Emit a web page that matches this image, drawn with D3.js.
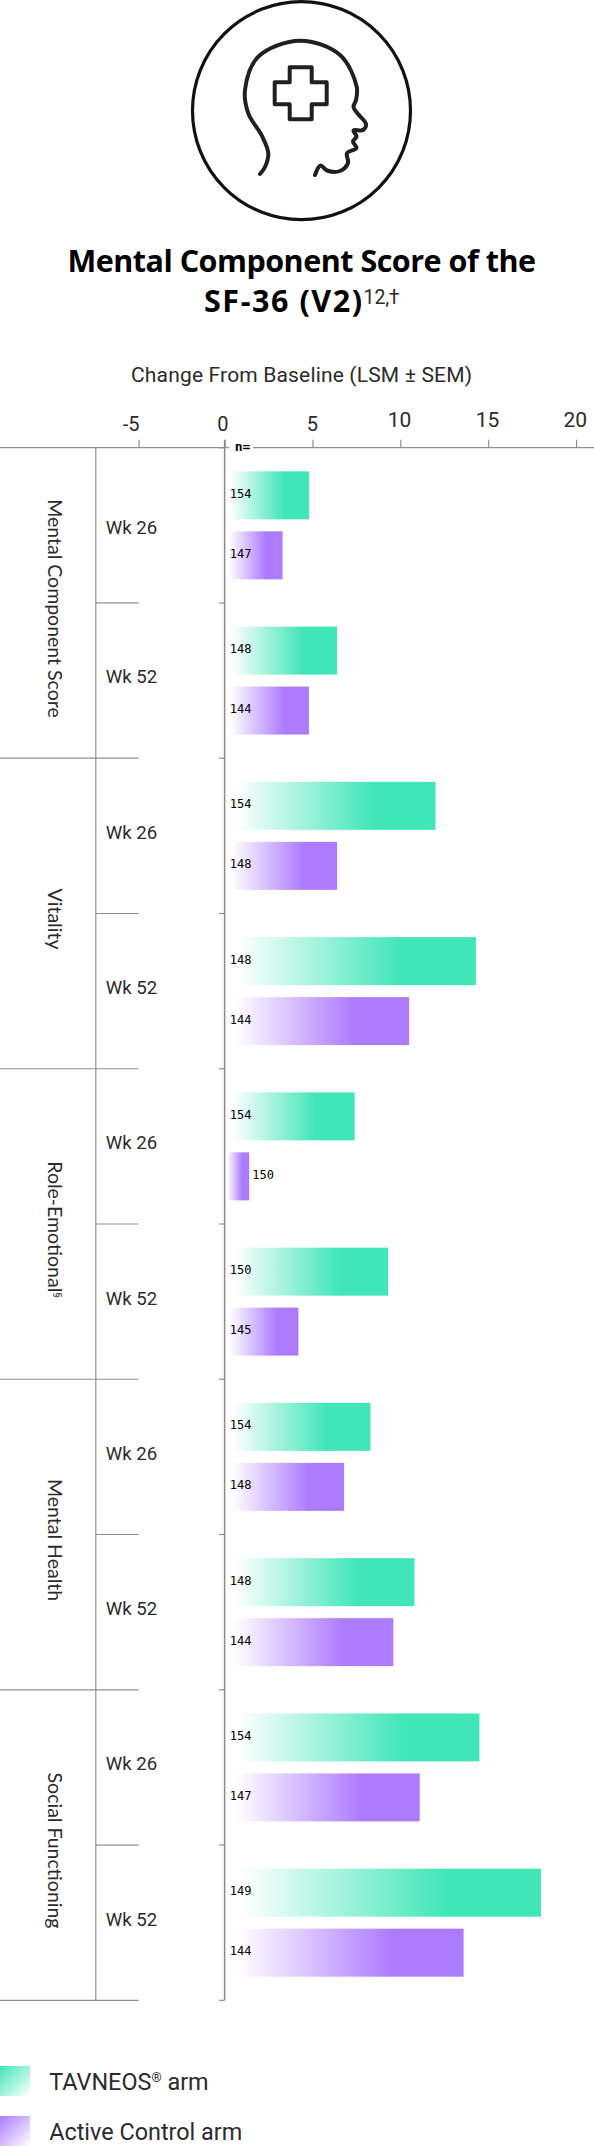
<!DOCTYPE html>
<html><head><meta charset="utf-8">
<script src="https://cdn.jsdelivr.net/npm/d3@7"></script>
<style>
html,body{margin:0;padding:0;background:#fff}
svg{display:block}
text{fill:#2b2b2b}
.plex{font-family:"Roboto",sans-serif;font-weight:400}
.cat{font-family:"Lato",sans-serif;font-weight:400}
.mono{font-family:"DejaVu Sans Mono",monospace}
</style></head><body>
<svg id="c" width="594" height="2147"></svg>
<script>
const categories=["Mental Component Score","Vitality","Role-Emotional","Mental Health","Social Functioning"];
const weeks=["Wk 26","Wk 52"];
const arms=["TAVNEOS","Active Control"];
const tavneosValues=[4.8,6.4,12,14.3,7.4,9.3,8.3,10.8,14.5,18];
const controlValues=[3.3,4.8,6.4,10.5,1.4,4.2,6.8,9.6,11.1,13.6];
const tavneosN=[154,148,154,148,154,150,154,148,154,149];
const controlN=[147,144,148,144,150,145,148,144,147,144];
const xTicks=[-5,0,5,10,15,20];
const colors=["#40E6B8","#AD7BFF"];

const W=594,plotTop=447.7,plotBottom=2000.3;
const svg=d3.select("#c");
const x=d3.scaleLinear().domain([-5,0,20]).range([138.6,224.6,576.1]);
const rows=d3.range(10);
const y=d3.scaleBand().domain(rows).range([plotTop,plotBottom]);
const yArm=d3.scaleBand().domain(arms).range([0,y.bandwidth()]).paddingInner(.2).paddingOuter(.394);
const yCat=d3.scaleBand().domain(categories).range([plotTop,plotBottom]);
const axisCol="#8f8f8f";

// gradients
const defs=svg.append("defs");
colors.forEach((c,i)=>{
  const g=defs.append("linearGradient").attr("id","bar"+i);
  g.append("stop").attr("offset","5%").attr("stop-color",c).attr("stop-opacity",0);
  g.append("stop").attr("offset","70%").attr("stop-color",c);
  const l=defs.append("linearGradient").attr("id","leg"+i).attr("x1",0).attr("y1",0).attr("x2",1).attr("y2",1);
  l.append("stop").attr("offset","0%").attr("stop-color",c);
  l.append("stop").attr("offset","100%").attr("stop-color",c).attr("stop-opacity",0);
});

// icon
const icon=svg.append("g").attr("fill","none").attr("stroke","#111");
icon.append("circle").attr("cx",301.5).attr("cy",110.7).attr("r",109).attr("stroke-width",3.2);
const headPts=[[260,174],[265,167],[268.3,153.3],[262,136],[248.3,113.3],[245,90],[258.3,56.7],[300,40.7],[340,55],[356.7,86.7],[356,100],[353.5,107],[358,114],[366,124],[363,130],[353.5,130.5],[356.5,136.5],[353,141.5],[356.5,148],[347,153.3],[348,163],[340,171],[327,170.5],[320.5,165.5],[315,175]];
icon.append("path").attr("d",d3.line().curve(d3.curveCatmullRom.alpha(.5))(headPts)).attr("stroke","#231f20").attr("stroke-width",4).attr("stroke-linecap","round").attr("stroke-linejoin","round");
const cx=300.7,cy=93.3,a=26,b=11;
icon.append("path").attr("d",`M${cx-b},${cy-a}H${cx+b}V${cy-b}H${cx+a}V${cy+b}H${cx+b}V${cy+a}H${cx-b}V${cy+b}H${cx-a}V${cy-b}H${cx-b}Z`).attr("stroke","#231f20").attr("stroke-width",4).attr("stroke-linejoin","round");

// title
const T=svg.append("g").style("font-family",'"Open Sans",sans-serif');
const titleBold=(txt,xx,yy,len)=>T.append("text").attr("x",xx).attr("y",yy).attr("font-size",30.5).attr("font-weight",700).attr("textLength",len).attr("lengthAdjust","spacing").style("fill","#000").text(txt);
titleBold("Mental Component Score of the",67.4,271.7,468.6);
titleBold("SF-36 (V2)",204,311.7,158);
svg.append("text").attr("class","plex").attr("x",363.6).attr("y",304).attr("font-size",19.5).attr("textLength",36).text("12,†");
svg.append("text").attr("class","plex").attr("x",131).attr("y",382).attr("font-size",21).attr("textLength",341).text("Change From Baseline (LSM ± SEM)");

// axis
const ax=svg.append("g").attr("transform",`translate(0,${plotTop})`).call(d3.axisTop(x).tickValues(xTicks).tickSize(8).tickSizeOuter(0).tickFormat(String));
ax.select(".domain").remove();
ax.selectAll("line").attr("stroke",axisCol).attr("stroke-width",1.2);
ax.selectAll("text").attr("class","plex").attr("font-size",d=>d<10?20:21)
  .attr("x",d=>d<0?-8:d===0?-2.3:d===5?-.5:-1.3).attr("y",d=>d<10?-17:-21).attr("dy",0);
ax.attr("font-family",null).attr("font-size",null);
svg.append("line").attr("x1",0).attr("x2",W).attr("y1",plotTop).attr("y2",plotTop).attr("stroke",axisCol).attr("stroke-width",1.3);
svg.append("rect").attr("x",229).attr("y",plotTop-8).attr("width",24).attr("height",14).attr("fill","#fff");
svg.append("text").attr("class","mono").attr("x",234.8).attr("y",451).attr("font-size",13).attr("font-weight",700).style("fill","#000").text("n=");

// separators
const seps=svg.append("g").attr("stroke",axisCol).attr("stroke-width",1.2);
rows.forEach(r=>{
  const yy=y(r)+y.bandwidth();
  seps.append("line").attr("x1",r%2?0:95.8).attr("x2",x(-5)).attr("y1",yy).attr("y2",yy);
  seps.append("line").attr("x1",x(0)-5.5).attr("x2",x(0)).attr("y1",yy).attr("y2",yy);
});
seps.append("line").attr("x1",x(0)-5.5).attr("x2",x(0)).attr("y1",plotTop).attr("y2",plotTop);
svg.append("line").attr("x1",95.8).attr("x2",95.8).attr("y1",plotTop).attr("y2",plotBottom).attr("stroke",axisCol).attr("stroke-width",1.2);

// bars
const barData=rows.flatMap(r=>[
  {r,a:0,v:tavneosValues[r],n:tavneosN[r]},
  {r,a:1,v:controlValues[r],n:controlN[r]}]);
const barStart=x(0)+1.4;
const by=d=>y(d.r)+yArm(arms[d.a]);
svg.append("g").selectAll("rect").data(barData).join("rect")
  .attr("x",barStart).attr("y",by).attr("height",yArm.bandwidth())
  .attr("width",d=>x(d.v)-barStart).attr("fill",d=>`url(#bar${d.a})`);
svg.append("line").attr("x1",x(0)).attr("x2",x(0)).attr("y1",plotTop-8).attr("y2",plotBottom).attr("stroke","#8a8a8a").attr("stroke-width",1.5);
svg.append("g").selectAll("text").data(barData).join("text").attr("class","mono")
  .attr("x",d=>x(d.v)<x(2)?x(d.v)+3:229.8).attr("y",d=>by(d)+26.5).attr("font-size",12).style("fill","#000").text(d=>d.n);

// week labels
svg.append("g").selectAll("text").data(rows).join("text").attr("class","plex")
  .attr("x",105.7).attr("y",r=>y(r)+80.5+(r===0?6:0)).attr("font-size",18.6).text(r=>weeks[r%2]);

// category labels
svg.append("g").selectAll("text").data(categories).join("text").attr("class","cat")
  .attr("text-anchor","middle").attr("font-size",19.5)
  .attr("transform",c=>`translate(47.8,${yCat(c)+yCat.bandwidth()/2+5.5}) rotate(90)`)
  .each(function(c){const s=d3.select(this);s.append("tspan").text(c);
    if(c==="Role-Emotional")s.append("tspan").attr("font-size",11).attr("dy",-6).text("§");});

// legend
const legendLabels=["TAVNEOS"," arm","Active Control arm"];
const lg=svg.append("g");
const ly=d3.scalePoint().domain(arms).range([2066,2116]);
arms.forEach((a,i)=>{
  lg.append("rect").attr("x",0).attr("y",ly(a)).attr("width",30).attr("height",30).attr("fill",`url(#leg${i})`);
  const t=lg.append("text").attr("class","plex").attr("x",49.2).attr("y",ly(a)+24).attr("font-size",23.4);
  if(i===0){t.append("tspan").text(legendLabels[0]);t.append("tspan").attr("font-size",13).attr("dy",-8).text("®");t.append("tspan").attr("dy",8).text(legendLabels[1]);}
  else t.text(legendLabels[2]);
});
</script></body></html>
